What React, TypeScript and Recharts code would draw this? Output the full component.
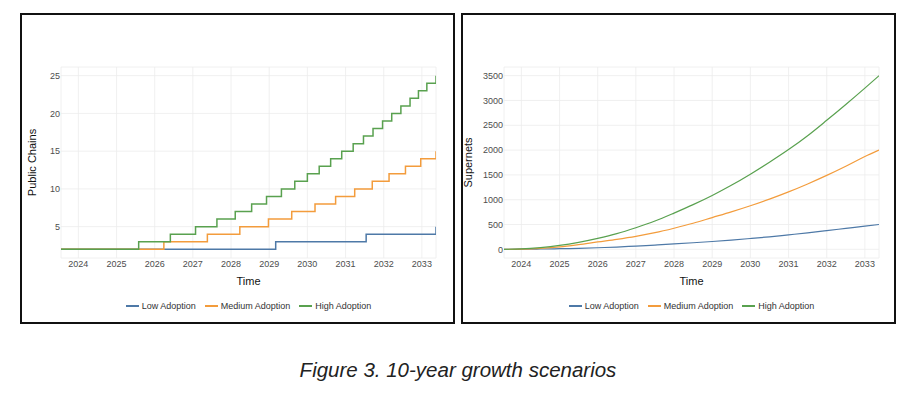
import { LineChart, Line, XAxis, YAxis, CartesianGrid, Legend } from 'recharts';

// shared time axis (decimal years)
const startYear = 2023.545;
const endYear = 2033.37;
const yearTicks = [2024, 2025, 2026, 2027, 2028, 2029, 2030, 2031, 2032, 2033];
const seriesNames = ['Low Adoption', 'Medium Adoption', 'High Adoption'];

// Public chains: time of each step and the level reached at that time
const lowChainTimes = [2023.545, 2029.17, 2031.54, 2033.37];
const lowChainValues = [2, 3, 4, 5];
const mediumChainTimes = [2023.545, 2026.24, 2027.38, 2028.23, 2028.98, 2029.59, 2030.2, 2030.74, 2031.24, 2031.7, 2032.14, 2032.57, 2032.97, 2033.37];
const mediumChainValues = [2, 3, 4, 5, 6, 7, 8, 9, 10, 11, 12, 13, 14, 15];
const highChainTimes = [2023.545, 2025.58, 2026.41, 2027.07, 2027.63, 2028.11, 2028.54, 2028.93, 2029.32, 2029.67, 2030.0, 2030.31, 2030.61, 2030.9, 2031.2, 2031.47, 2031.72, 2031.97, 2032.21, 2032.45, 2032.69, 2032.91, 2033.13, 2033.37];
const highChainValues = [2, 3, 4, 5, 6, 7, 8, 9, 10, 11, 12, 13, 14, 15, 16, 17, 18, 19, 20, 21, 22, 23, 24, 25];
const chainTicks = [5, 10, 15, 20, 25];

// Supernets
const supernetTimes = [2023.545, 2024, 2024.5, 2025, 2025.5, 2026, 2026.5, 2027, 2027.5, 2028, 2028.5, 2029, 2029.5, 2030, 2030.5, 2031, 2031.5, 2032, 2032.5, 2033, 2033.37];
const lowSupernets = [0, 2, 6, 12, 20, 32, 46, 66, 86, 108, 132, 158, 186, 218, 252, 292, 332, 376, 422, 468, 500];
const mediumSupernets = [0, 5, 20, 48, 95, 150, 202, 262, 335, 425, 525, 640, 755, 878, 1012, 1158, 1318, 1490, 1675, 1870, 2000];
const highSupernets = [0, 8, 35, 78, 140, 220, 315, 435, 570, 730, 900, 1085, 1290, 1515, 1755, 2010, 2290, 2600, 2920, 3250, 3500];
const supernetTicks = [0, 500, 1000, 1500, 2000, 2500, 3000, 3500];

const COLORS = { low: '#4E79A7', medium: '#F39C3C', high: '#59A14F' };
const FONT = '"Liberation Sans", Arial, sans-serif';

const toSteps = (times: number[], values: number[]) => times.map((t, i) => ({ t, v: values[i] }));

const supernetData = supernetTimes.map((t, i) => ({
  t,
  low: lowSupernets[i],
  medium: mediumSupernets[i],
  high: highSupernets[i],
}));

// legend keeps series order (recharts sorts by name otherwise)
const LegendContent = ({ payload }: any) => {
  const items = [...(payload || [])].sort((a: any, b: any) => seriesNames.indexOf(a.value) - seriesNames.indexOf(b.value));
  return (
    <div style={{ display: 'flex', justifyContent: 'center', alignItems: 'center', height: 14, fontSize: 9, color: '#333', fontFamily: FONT }}>
      {items.map((p: any, i: number) => (
        <div key={p.value} style={{ display: 'flex', alignItems: 'center', marginLeft: i === 0 ? 0 : 9 }}>
          <span style={{ display: 'inline-block', width: 13, height: 1.5, background: p.color, marginRight: 3 }} />
          <span>{p.value}</span>
        </div>
      ))}
    </div>
  );
};

const tickStyle = { fontSize: 9, fill: '#4d4d4d', fontFamily: FONT };
const titleStyle = { fontSize: 11, fill: '#111', fontFamily: FONT, textAnchor: 'middle' as const };

const panelStyle = (left: number): React.CSSProperties => ({
  position: 'absolute',
  left,
  top: 13,
  width: 435,
  height: 311,
  border: '2px solid #111',
  boxSizing: 'border-box',
  background: '#fff',
});

export default function App() {
  return (
    <div style={{ position: 'absolute', left: 0, top: 0, width: 918, height: 396, background: '#fff', fontFamily: FONT }}>
      <div style={panelStyle(20)}>
        <LineChart width={431} height={307} margin={{ top: 52, right: 17, left: 0, bottom: 0 }}>
          <CartesianGrid stroke="#ececec" strokeWidth={0.8} />
          <XAxis
            type="number"
            dataKey="t"
            domain={[startYear, endYear]}
            ticks={yearTicks}
            allowDataOverflow
            axisLine={false}
            tickLine={false}
            tickSize={0}
            tickMargin={3}
            height={50}
            tick={tickStyle}
            label={{ value: 'Time', position: 'insideBottom', offset: 23, style: titleStyle }}
          />
          <YAxis
            type="number"
            domain={[0.85, 26.15]}
            ticks={chainTicks}
            allowDataOverflow
            axisLine={false}
            tickLine={false}
            tickSize={0}
            tickMargin={1}
            width={39}
            tick={tickStyle}
            label={{ value: 'Public Chains', angle: -90, position: 'insideLeft', offset: 10, style: titleStyle }}
          />
          <Legend verticalAlign="bottom" content={<LegendContent />} wrapperStyle={{ left: 39, width: 375, bottom: 9 }} />
          <Line data={toSteps(lowChainTimes, lowChainValues)} dataKey="v" name="Low Adoption" type="stepAfter" stroke={COLORS.low} strokeWidth={1.5} dot={false} isAnimationActive={false} />
          <Line data={toSteps(mediumChainTimes, mediumChainValues)} dataKey="v" name="Medium Adoption" type="stepAfter" stroke={COLORS.medium} strokeWidth={1.5} dot={false} isAnimationActive={false} />
          <Line data={toSteps(highChainTimes, highChainValues)} dataKey="v" name="High Adoption" type="stepAfter" stroke={COLORS.high} strokeWidth={1.5} dot={false} isAnimationActive={false} />
        </LineChart>
      </div>

      <div style={panelStyle(461)}>
        <LineChart width={431} height={307} data={supernetData} margin={{ top: 52, right: 15, left: 0, bottom: 0 }}>
          <CartesianGrid stroke="#ececec" strokeWidth={0.8} />
          <XAxis
            type="number"
            dataKey="t"
            domain={[startYear, endYear]}
            ticks={yearTicks}
            allowDataOverflow
            axisLine={false}
            tickLine={false}
            tickSize={0}
            tickMargin={3}
            height={50}
            tick={tickStyle}
            label={{ value: 'Time', position: 'insideBottom', offset: 23, style: titleStyle }}
          />
          <YAxis
            type="number"
            domain={[-175, 3675]}
            ticks={supernetTicks}
            allowDataOverflow
            axisLine={false}
            tickLine={false}
            tickSize={0}
            tickMargin={1}
            width={41}
            tick={tickStyle}
            label={{ value: 'Supernets', angle: -90, position: 'insideLeft', offset: 5, style: titleStyle }}
          />
          <Legend verticalAlign="bottom" content={<LegendContent />} wrapperStyle={{ left: 41, width: 375, bottom: 9 }} />
          <Line dataKey="low" name="Low Adoption" type="monotone" stroke={COLORS.low} strokeWidth={1.2} dot={false} isAnimationActive={false} />
          <Line dataKey="medium" name="Medium Adoption" type="monotone" stroke={COLORS.medium} strokeWidth={1.2} dot={false} isAnimationActive={false} />
          <Line dataKey="high" name="High Adoption" type="monotone" stroke={COLORS.high} strokeWidth={1.2} dot={false} isAnimationActive={false} />
        </LineChart>
      </div>

      <div style={{ position: 'absolute', left: 0, top: 360, width: 916, textAlign: 'center', fontSize: 20.5, lineHeight: 1, fontStyle: 'italic', color: '#222', fontFamily: FONT }}>
        Figure 3. 10-year growth scenarios
      </div>
    </div>
  );
}
